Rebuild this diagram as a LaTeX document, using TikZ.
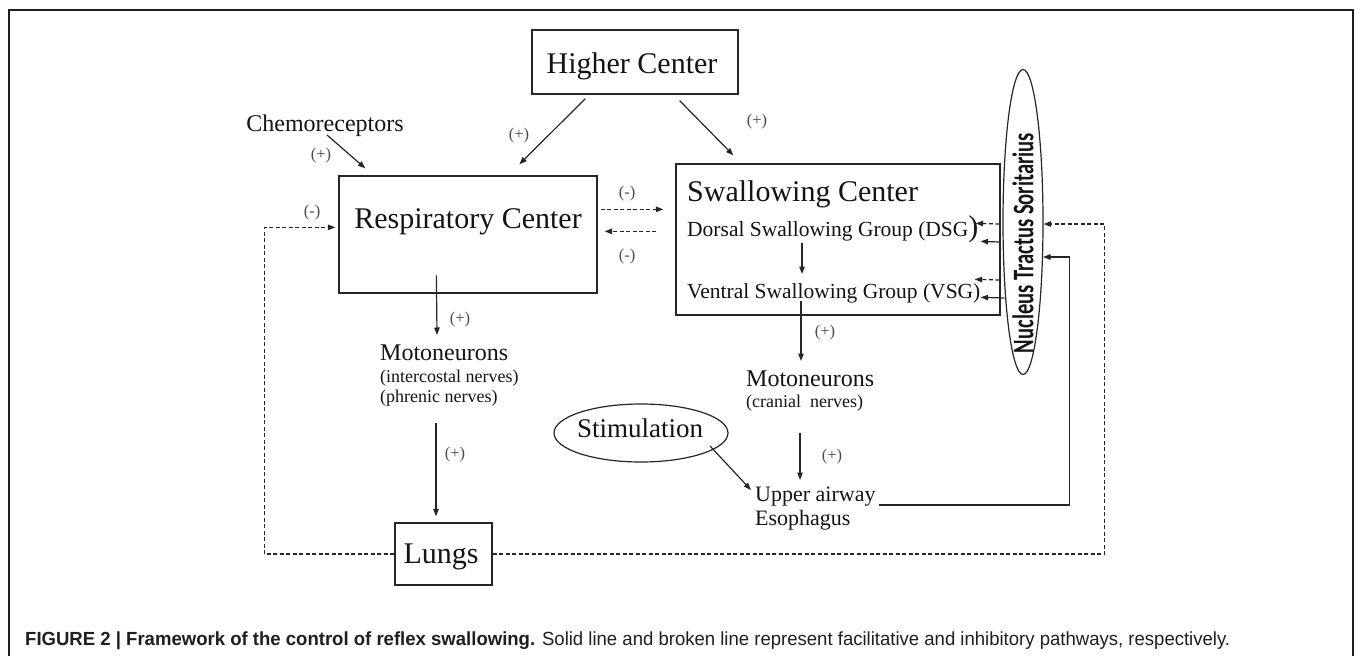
\documentclass[tikz,border=0pt]{standalone}
\usepackage{fontspec}
\usepackage{graphicx}
\setmainfont{Liberation Serif}
\newfontfamily\ntsfont{Carlito}
\newfontfamily\capfont{Liberation Sans}
\usetikzlibrary{calc,arrows.meta,shapes.geometric}
\newcommand\myfs[1]{\fontsize{#1pt}{#1pt}\selectfont}
\begin{document}
\begin{tikzpicture}[x=1pt,y=-1pt,
  ln/.style={line width=1.2pt, draw=black!85},
  arr/.style={ln, -{Triangle[length=7.5pt,width=5.5pt]}},
  darr/.style={arr, dash pattern=on 4pt off 2.5pt},
  boxnode/.style={draw=black!85, line width=1.3pt, rectangle, inner sep=0pt},
  ellnode/.style={draw=black!85, line width=1.2pt, ellipse, inner sep=0pt},
  txt/.style={inner sep=0pt, text=black!92},
  sgn/.style={inner sep=0pt, text=black!70, font=\myfs{16.5}},
]
\useasboundingbox (0,0) rectangle (1355,656);
\fill[white] (0,0) rectangle (1355,656);
% outer frame
\draw[line width=2pt, draw=black!88] (8.5,660) -- (8.5,9.5) -- (1352.5,9.5) -- (1352.5,660);

% boxes
\node[boxnode, minimum width=206pt, minimum height=64pt] (hc) at (635,62) {};
\node[txt, anchor=base] (hct) at (632,73) {\myfs{30}Higher Center};
\node[boxnode, minimum width=258pt, minimum height=117pt] (rc) at (468,234.5) {};
\node[txt, anchor=base] (rct) at (468,228) {\myfs{30}Respiratory Center};
\node[boxnode, minimum width=324pt, minimum height=151pt] (sc) at (838,239.5) {};
\node[txt, anchor=base west] (sct) at (687,201) {\myfs{30}Swallowing Center};
\node[txt, anchor=base west] (dsg) at (687,236) {\myfs{21.5}Dorsal Swallowing Group (DSG{\myfs{30})}};
\node[txt, anchor=base west] (vsg) at (687,298) {\myfs{21.5}Ventral Swallowing Group (VSG)};
\node[boxnode, minimum width=97pt, minimum height=62pt] (lungs) at (443.5,554) {};
\node[txt, anchor=base] (lungst) at (441,563) {\myfs{30}Lungs};

% ellipses
\node[ellnode, minimum width=174pt, minimum height=58pt] (stim) at (641,433) {};
\node[txt, anchor=base] (stimt) at (640,437) {\myfs{27}Stimulation};
\node[ellnode, minimum width=40pt, minimum height=305pt] (nts) at (1023,222) {};
\node[txt, rotate=90] (ntst) at (1023,243) {\resizebox{220pt}{21pt}{\ntsfont\bfseries Nucleus Tractus Soritarius}};

% plain texts
\node[txt, anchor=base] (chemo) at (325,131) {\myfs{24}Chemoreceptors};
\node[txt, anchor=base west] (mL1) at (380,360) {\myfs{24}Motoneurons};
\node[txt, anchor=base west] (mL2) at (380,382) {\myfs{18}(intercostal nerves)};
\node[txt, anchor=base west] (mL3) at (380,402) {\myfs{18}(phrenic nerves)};
\node[txt, anchor=base west] (mR1) at (746,386) {\myfs{24}Motoneurons};
\node[txt, anchor=base west] (mR2) at (746,407) {\myfs{18}(cranial\ \ nerves)};
\node[txt, anchor=base west] (up1) at (755,501) {\myfs{22}Upper airway};
\node[txt, anchor=base west] (up2) at (755,525) {\myfs{22}Esophagus};

% sign labels
\node[sgn] (s1) at (321,156) {(+)};
\node[sgn] (s2) at (519,136) {(+)};
\node[sgn] (s3) at (757,122) {(+)};
\node[sgn] (s4) at (627,194) {(-)};
\node[sgn] (s5) at (627,257) {(-)};
\node[sgn] (s6) at (312,213) {(-)};
\node[sgn] (s7) at (460,320) {(+)};
\node[sgn] (s8) at (455,455) {(+)};
\node[sgn] (s9) at (825,333) {(+)};
\node[sgn] (s10) at (832,457) {(+)};

% connectors
\draw[arr] ($(chemo.base)+(2,4)$) -- ($(rc.north west)+(27,-7)$);
\draw[arr] ($(hc.south west)+(54,4)$) -- ($(rc.north west)+(181,-11)$);
\draw[arr] ($(hc.south east)+(-59,6)$) -- ($(sc.north west)+(58,-8)$);
\draw[darr] ($(rc.north east)+(3,34)$) -- ($(sc.north west)+(-12,46)$);
\draw[darr] ($(sc.north west)+(-19,68)$) -- ($(rc.north east)+(7,56)$);
\draw[darr] (lungs.west) -- ++(-130,0) |- ($(rc.north west)+(-3,52)$);
\draw[darr] (lungs.east) -- ++(612,0) |- ($(nts.east)+(0,2)$);
\draw[arr] ($(up1.base east)+(3,4)$) -- ++(191,0) |- ($(nts.center)+(20,35)$);

\draw[darr] ($(nts.west)+(-3,2)$) -- ($(sc.north east)+(-25,60)$);
\draw[arr] ($(nts.west)+(-3,20)$) -- ($(sc.north east)+(-20,78)$);
\draw[darr] ($(nts.west)+(-3,58)$) -- ($(sc.north east)+(-26,116)$);
\draw[arr] ($(nts.west)+(2,76)$) -- ($(sc.north east)+(-20,134)$);

\draw[arr] ($(dsg.base west)+(115,7)$) -- ($(vsg.base west)+(115,-24)$);
\draw[arr] ($(vsg.base west)+(114,3)$) -- ($(mR1.base west)+(55,-25)$);
\draw[arr] ($(mR2.base west)+(54,26)$) -- ($(up1.base west)+(45,-21)$);
\draw[arr] ($(stim.center)+(69,13)$) -- ($(up1.base west)+(-4,-11)$);
\draw[arr] ($(rc.north west)+(98,100)$) -- ($(mL1.base west)+(57,-25)$);
\draw[arr] ($(mL3.base west)+(56,21)$) -- ($(lungs.north)+(-7.5,-6)$);

% caption
\node[inner sep=0pt, anchor=base west] (cap) at (25,645) {\color{black!88}\resizebox{1205pt}{\height}{\capfont\myfs{19}\textbf{FIGURE 2 | Framework of the control of reflex swallowing.} Solid line and broken line represent facilitative and inhibitory pathways, respectively.}};
\end{tikzpicture}
\end{document}
